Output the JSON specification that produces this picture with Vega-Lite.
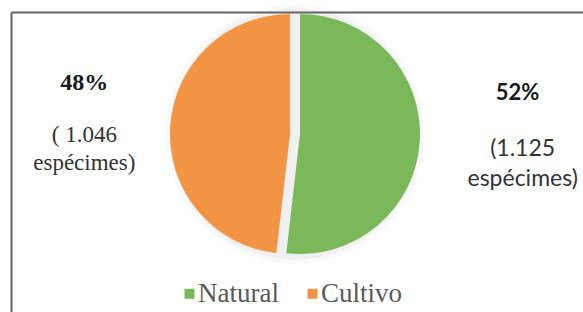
{
  "$schema": "https://vega.github.io/schema/vega-lite/v6.json",
  "width": 572,
  "height": 300,
  "autosize": {"type": "none"},
  "padding": {"left": 11, "top": 12, "right": 0, "bottom": 0},
  "background": "white",
  "config": {"view": {"stroke": null}},
  "data": {
    "values": [
      {"cat": "Natural", "value": 1125, "pct": "52%", "label": "(1.125\nespécimes)"},
      {"cat": "Cultivo", "value": 1046, "pct": "48%", "label": "( 1.046\nespécimes)"}
    ]
  },
  "encoding": {
    "x": {
      "datum": 284,
      "type": "quantitative",
      "scale": {"domain": [0, 572], "nice": false, "zero": false},
      "axis": {"orient": "top", "domain": true, "domainColor": "#666666", "domainWidth": 2, "ticks": false, "labels": false, "grid": false, "title": null, "zindex": 1}
    },
    "y": {
      "datum": 122,
      "type": "quantitative",
      "scale": {"domain": [0, 300], "reverse": true, "nice": false, "zero": false},
      "axis": {"orient": "left", "domain": true, "domainColor": "#666666", "domainWidth": 2, "ticks": false, "labels": false, "grid": false, "title": null, "zindex": 1}
    },
    "theta": {"field": "value", "type": "quantitative", "stack": true},
    "order": {"field": "value", "sort": "descending"}
  },
  "layer": [
    {
      "mark": {"type": "arc", "radius": 129, "fill": "#f9f9f9", "stroke": "#f9f9f9", "strokeWidth": 1}
    },
    {
      "mark": {"type": "arc", "radius": 125, "fill": "#f0f0f0", "stroke": "#f0f0f0", "strokeWidth": 1}
    },
    {
      "mark": {"type": "arc", "radius": 120, "xOffset": {"expr": "datum.cat == 'Natural' ? 5 : -5"}},
      "encoding": {
        "color": {
          "field": "cat",
          "type": "nominal",
          "scale": {"domain": ["Natural", "Cultivo"], "range": ["#7AB85A", "#F39444"]},
          "legend": {
            "orient": "none",
            "legendX": 165,
            "legendY": 268,
            "padding": 0,
            "direction": "horizontal",
            "title": null,
            "symbolType": "square",
            "symbolSize": 100,
            "symbolStrokeWidth": 0,
            "labelFont": "Liberation Serif",
            "labelFontSize": 27,
            "labelColor": "#595959",
            "labelOffset": -5,
            "columnPadding": 20
          }
        }
      }
    },
    {
      "mark": {
        "type": "text",
        "fontWeight": "bold",
        "font": "Liberation Serif",
        "fontSize": 24,
        "color": "#1a1a1a",
        "align": "center",
        "baseline": "middle",
        "radius": 211,
        "dy": -39,
        "opacity": {"expr": "datum.cat == 'Cultivo' ? 1 : 0"}
      },
      "encoding": {"text": {"field": "pct"}}
    },
    {
      "mark": {
        "type": "text",
        "fontWeight": "bold",
        "font": "Lato",
        "fontSize": 22,
        "color": "#1a1a1a",
        "align": "center",
        "baseline": "middle",
        "radius": 223,
        "dy": -54,
        "opacity": {"expr": "datum.cat == 'Natural' ? 1 : 0"}
      },
      "encoding": {"text": {"field": "pct"}}
    },
    {
      "mark": {
        "type": "text",
        "font": "Liberation Serif",
        "fontSize": 23,
        "lineHeight": 28,
        "lineBreak": "\n",
        "color": "#333333",
        "align": "center",
        "baseline": "middle",
        "radius": 211,
        "dy": 13,
        "opacity": {"expr": "datum.cat == 'Cultivo' ? 1 : 0"}
      },
      "encoding": {"text": {"field": "label"}}
    },
    {
      "mark": {
        "type": "text",
        "font": "Lato",
        "fontSize": 23,
        "lineHeight": 30,
        "lineBreak": "\n",
        "color": "#333333",
        "align": "center",
        "baseline": "middle",
        "radius": 228,
        "dy": 2,
        "opacity": {"expr": "datum.cat == 'Natural' ? 1 : 0"}
      },
      "encoding": {"text": {"field": "label"}}
    }
  ]
}
